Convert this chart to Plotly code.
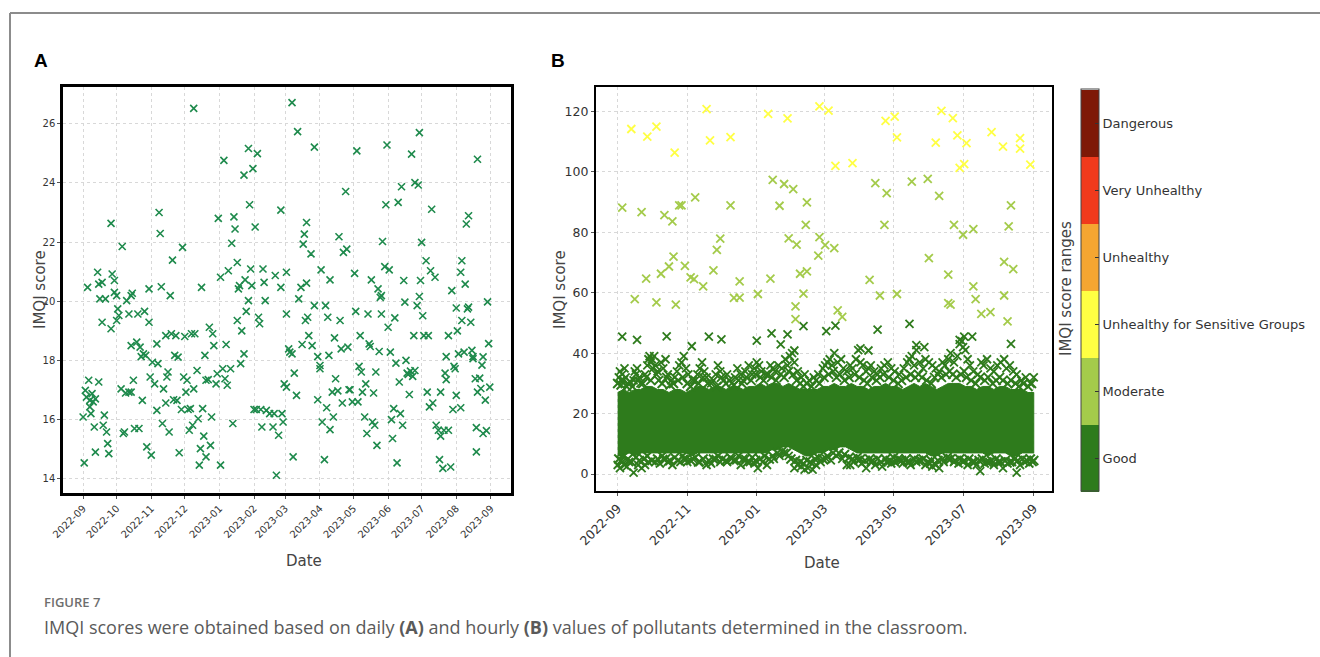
import pandas as pd
import plotly.graph_objects as go

START = pd.Timestamp("2022-09-01")

# ---------------- Panel A: daily IMQI (day offset from 2022-09-01, score)
a_day = [0, 1, 2, 3, 4, 5, 6, 6, 7, 8, 9, 10, 11, 11, 13, 14, 14, 15, 17, 17, 18, 19, 20, 21, 22, 23,
         25, 25, 26, 28, 28, 30, 30, 31, 32, 34, 35, 36, 37, 38, 39, 41, 41, 43, 43, 43, 44, 45, 46, 48,
         49, 50, 51, 52, 53, 54, 55, 56, 57, 59, 59, 60, 61, 62, 64, 66, 66, 67, 68, 69, 70, 71, 72, 74,
         74, 75, 76, 77, 78, 79, 80, 81, 82, 83, 84, 85, 86, 88, 89, 90, 91, 92, 93, 94, 95, 96, 97, 98,
         99, 99, 100, 102, 103, 104, 105, 106, 107, 108, 109, 110, 110, 112, 113, 114, 115, 116, 117, 119,
         120, 121, 123, 123, 125, 126, 127, 128, 129, 130, 132, 133, 134, 135, 136, 138, 138, 139, 140, 141,
         142, 144, 144, 145, 146, 148, 148, 149, 150, 151, 152, 153, 154, 155, 156, 157, 158, 159, 160, 161,
         162, 163, 164,
         167, 170, 171, 172, 173, 175, 177, 177, 178, 179, 180, 182, 182, 182, 184, 185, 187, 187, 188, 189,
         191, 192, 193, 195, 196, 197, 198, 199, 200, 200, 201, 202, 204, 205, 207, 207, 210, 210, 212, 212,
         213, 214, 216, 217, 218, 219, 220, 221, 221, 223, 224, 225, 226, 228, 229, 230, 231, 232, 233, 235,
         236, 237, 238, 239, 241, 243, 244, 245, 246, 247, 248, 249, 250, 252, 253, 254, 255, 256, 257, 258,
         259, 260, 261, 262, 263, 264, 265, 266, 267, 267, 268, 270, 271, 272, 273, 274, 275, 276, 277, 278,
         279, 280, 281, 282, 283, 284, 285, 286, 287, 288, 289, 290, 291, 292, 293, 294, 295, 296, 297, 297,
         299, 300, 301, 301, 302, 303, 304, 305, 307, 308, 309, 310, 311, 312, 313, 315, 316, 318, 319, 320,
         320, 322, 323, 324, 325, 325, 327, 327, 329, 330, 331, 332, 333, 334, 334, 335, 336, 338, 338, 339,
         339, 341, 342, 343, 344, 345, 345, 347, 348, 349, 349, 351, 352, 352, 353, 353,
         355, 356, 357, 358, 358, 360, 361, 362, 363, 364]
a_score = [16.09, 14.54, 16.99, 16.76, 20.47, 17.33, 16.43, 16.65, 16.2, 16.88, 16.6, 15.75, 14.9, 16.7, 20.98,
           17.27, 20.58, 20.08, 20.64, 19.29, 15.81, 16.15, 20.08, 15.58, 15.19, 14.85, 19.07, 22.63, 20.92,
           20.3, 20.7, 20.19, 19.35, 19.74, 19.52, 17.04, 21.85, 15.53, 15.58, 16.9, 20.02, 16.93, 19.57,
           20.19, 16.93, 18.5, 20.27, 17.33, 15.7, 18.62, 19.57, 15.7, 18.45, 18.13, 16.65, 18.22, 19.66,
           18.17, 15.08, 19.29, 20.42, 17.44, 14.8, 17.94, 17.21, 16.31, 18.56, 17.89, 23.0, 22.29, 20.49,
           15.87, 17.04, 16.56, 18.84, 17.44, 17.61, 15.58, 20.19, 18.9, 21.39, 16.67, 18.17, 18.84, 16.65,
           18.11, 14.88, 16.34, 21.82, 17.44, 18.81, 16.93, 17.33, 16.34, 15.64, 16.37, 18.9, 15.81, 26.52,
           17.04, 18.9, 17.66, 16.03, 14.46, 15.02, 20.47, 16.37, 15.44, 18.17, 17.33, 14.74, 17.35, 19.12,
           15.13, 16.09, 18.9, 18.5, 17.21, 17.55, 22.8, 14.46, 20.81, 17.72, 24.76, 17.38, 18.54, 17.16,
           21.03, 17.72, 21.96, 15.87, 22.85, 22.44, 21.31, 19.35, 20.42, 20.53, 17.89, 19.0, 18.22, 24.26,
           20.72, 19.66, 25.16, 20.02, 23.26, 21.09, 20.53, 24.48, 16.34, 22.51, 16.34, 24.99, 19.46, 19.24,
           16.34, 15.75, 21.09, 20.64, 20.02, 16.31,
           16.2, 15.75, 16.2, 20.87, 14.12, 15.47, 20.47, 23.08, 16.2, 15.92, 17.21, 17.1, 20.98, 19.57,
           18.39, 18.28, 26.71, 18.22, 14.74, 17.57, 16.82, 25.73, 20.08, 20.47, 18.54, 21.93, 22.27, 19.35,
           20.61, 22.66, 19.46, 18.84, 21.6, 18.5, 19.85, 25.21, 18.13, 16.67, 17.83, 17.72, 21.06, 15.92,
           14.65, 19.85, 16.4, 19.46, 18.17, 20.72, 15.66, 16.93, 16.09, 18.76, 17.38, 16.97, 22.18, 19.35,
           18.39, 16.56, 21.65, 23.71, 21.76, 18.45, 17.01, 17.01, 16.6, 20.94, 19.66, 25.08, 16.6, 17.8,
           18.84, 17.61, 16.93, 16.09, 17.21, 15.53, 19.57, 18.56, 18.47, 20.72, 15.92, 16.9, 15.81, 17.61,
           15.13, 20.42, 18.3, 20.13, 19.57, 20.19, 22.02, 21.17, 23.26, 25.28, 19.12, 21.06, 18.28, 16.0,
           15.36, 16.37, 19.44, 17.91, 14.54, 23.34, 17.27, 16.2, 23.87, 15.81, 20.7, 19.97, 18.0, 17.57,
           17.53, 16.85, 17.64, 24.97, 17.46, 18.84, 17.66, 24.01, 19.85, 23.93, 25.7, 20.16, 20.7, 21.99,
           19.51, 18.84, 21.37, 16.93, 18.84, 16.43, 21.03, 23.11, 16.56, 20.81, 15.81, 15.64, 14.65, 16.93,
           15.44, 14.35, 15.64, 17.57, 17.35, 18.13, 15.64, 18.84, 14.4, 20.36, 16.34, 17.8, 17.72, 19.77,
           16.82, 19.0, 18.22, 16.4, 20.98, 21.37, 19.35, 18.28, 20.58, 22.61, 19.74, 22.89, 19.8, 19.29,
           18.34, 18.06, 18.13, 17.38, 14.91, 15.73, 16.93, 24.8,
           17.4, 17.05, 17.84, 18.12, 15.53, 16.66, 15.63, 19.98, 18.57, 17.1]

# ---------------- Panel B: hourly IMQI
# dense "Good" core band: envelope read every 5 days
core_day = list(range(0, 366, 5))
core_top = [27, 28, 27, 28, 28, 29, 29, 28, 28, 27, 28, 28, 27, 28, 29, 29, 28, 29, 29, 28, 29, 29, 28, 29,
            29, 30, 29, 30, 30, 29, 30, 29, 28, 28, 28, 28, 29, 29, 30, 29, 29, 30, 29, 29, 28, 29, 29, 30,
            29, 29, 28, 29, 30, 29, 30, 29, 28, 29, 30, 30, 30, 29, 29, 28, 29, 29, 28, 29, 29, 28, 28, 28,
            27, 27]
core_bot = [6, 6, 7, 6, 7, 7, 7, 7, 7, 7, 7, 7, 7, 6, 7, 7, 7, 7, 7, 7, 7, 7, 7, 7, 7, 7, 7, 8, 8, 9, 9, 8,
            7, 6, 6, 7, 7, 8, 8, 9, 9, 8, 7, 7, 7, 7, 7, 7, 7, 7, 7, 7, 7, 7, 7, 6, 6, 7, 7, 7, 7, 7, 7, 7,
            7, 6, 7, 7, 7, 6, 6, 7, 7, 7]

# hourly points crowding the top / bottom edges of the core band
edge_day = [0, 3, 5, 8, 11, 13, 18, 22, 25, 29, 34, 36, 39, 43, 46, 49, 53, 57, 61, 64, 68, 71, 75, 79, 84,
            87, 91, 95, 98, 102, 106, 109, 113, 117, 121, 125, 128, 132, 135, 139, 143, 146, 150, 154, 157,
            160, 163, 166, 170, 174, 177, 181, 185, 189, 192, 195, 199, 203, 208, 212, 216, 219, 223, 227,
            230, 233, 238, 242, 246, 249, 253, 257, 261, 264, 267, 271, 275, 278, 281, 284, 288, 291, 294,
            297, 301, 304, 306, 310, 314, 318, 322, 325, 329, 332, 335, 338, 342, 345, 349, 352, 356, 360, 363,
            1, 3, 5, 9, 12, 16, 19, 23, 26, 30, 35, 39, 42, 46, 50, 53, 57, 60, 64, 68, 71, 75, 80, 84, 88,
            92, 95, 99, 102, 106, 110, 114, 118, 121, 125, 129, 133, 136, 140, 144, 148, 152, 156, 160, 163,
            166, 169, 173, 176, 180, 184, 189, 194, 199, 203, 206, 210, 213, 217, 221, 224, 228, 231, 235,
            239, 242, 246, 249, 253, 256, 260, 264, 268, 272, 275, 278, 281, 285, 289, 292, 296, 300, 304,
            308, 313, 317, 320, 324, 328, 332, 336, 340, 344, 348, 351, 355, 359, 362, 365]
edge_score = [30, 29.5, 31, 29, 30.5, 29, 31, 30, 32, 31, 33, 31, 30, 32, 29.5, 30, 31, 32, 30, 29, 31, 30,
              32, 30, 31, 29, 32, 30, 31, 29.5, 31, 30, 32, 31, 33, 32, 31, 33, 32, 31, 33, 32, 34, 33, 31,
              30, 29, 30, 29, 31, 30, 32, 33, 34, 32, 33, 31, 32, 33, 32, 31, 30, 32, 31, 32, 33, 32, 31,
              30, 31, 32, 33, 32, 33, 32, 31, 30, 32, 33, 32, 33, 34, 33, 32, 33, 34, 32, 31, 30, 32, 31,
              32, 30, 31, 32, 31, 30, 31, 30, 29, 30, 29, 30,
              5, 4.5, 6, 5, 4, 5.5, 4.5, 5, 6, 4.5, 5, 6, 5, 4.5, 5.5, 4.5, 6, 5, 4.5, 5.5, 4, 5, 4.5, 5,
              6, 5, 4.5, 5.5, 4.5, 6, 5, 4, 5.5, 4.5, 5, 6, 5, 6, 7, 7.5, 7, 5, 4.5, 4, 3.5, 4.5, 4, 5,
              5.5, 5, 6, 7, 7, 6.5, 5.5, 5, 5.5, 5, 4.5, 5, 4.5, 5, 4, 5, 4.5, 5.5, 5, 4.5, 5, 4, 5, 4.5,
              5, 4, 4.5, 3.5, 4.5, 5, 5.5, 5, 4.5, 5, 4.5, 5, 4, 4.5, 5, 4, 4.5, 5, 4, 4.5, 4, 5, 4.5, 5,
              4.5, 5, 4.5]

# scattered hourly points outside the dense core (day offset, score)
b_day = [1, 2, 3, 4, 6, 7, 9, 14, 15, 16, 17, 19, 20, 24, 26, 27, 28, 29, 30, 31, 32, 33, 35, 38, 40, 42,
         44, 47, 50, 52, 54, 56, 58, 60, 62, 66, 70, 72, 74, 76, 78, 82, 86, 88, 90, 93, 96, 100, 103, 105,
         108, 110, 112, 115, 118, 120, 122, 124, 126, 130, 134, 136, 138, 141, 144, 147, 149, 151, 153, 155,
         158, 161, 164, 168, 172, 176, 180, 182, 184, 186, 188, 190, 193, 196, 198, 201, 204, 206, 209, 211,
         213, 215, 218, 220, 222, 225, 228, 231, 234, 237, 240, 243, 247, 251, 254, 256, 258, 260, 262, 265,
         268, 270, 273, 276, 279, 282, 285, 287, 290, 292, 295, 298, 300, 302, 303, 305, 307, 309, 312, 316,
         319, 321, 324, 327, 330, 333, 336, 339, 341, 344, 347, 350, 354, 358, 362, 365,
         0, 2, 4, 6, 8, 10, 14, 18, 21, 24, 27, 33, 37, 40, 44, 48, 55, 58, 61, 66, 72, 78, 82, 86, 90, 96,
         100, 104, 108, 112, 116, 120, 123, 127, 131, 137, 142, 146, 150, 155, 158, 161, 164, 167, 171, 174,
         178, 183, 187, 192, 197, 201, 204, 207, 211, 214, 218, 222, 226, 232, 236, 240, 243, 247, 250, 254,
         257, 262, 266, 270, 274, 276, 279, 282, 286, 290, 295, 299, 303, 307, 311, 315, 318, 322, 326, 330,
         334, 338, 342, 346, 350, 353, 357, 361, 364,
         4, 17, 43, 65, 80, 91, 122, 135, 143, 149, 155, 163, 183, 191, 213, 220, 228, 256, 262, 269, 300,
         304, 311, 345,
         4, 15, 21, 25, 34, 38, 41, 45, 48, 49, 51, 54, 56, 59, 64, 67, 68, 75, 84, 87, 90, 99, 102, 107,
         107, 123, 134, 136, 142, 146, 150, 154, 157, 156, 156, 160, 163, 165, 166, 166, 176, 177, 182, 190,
         193, 197, 221, 226, 230, 234, 236, 245, 258, 272, 273, 282, 290, 290, 292, 295, 303, 312, 312, 314,
         319, 327, 339, 339, 343, 345, 347, 342,
         12, 26, 34, 50, 78, 81, 99, 132, 149, 177, 185, 191, 206, 235, 243, 245, 279, 284, 294, 298, 300,
         304, 306, 328, 338, 353, 353, 362]
b_score = [32, 34, 31, 33, 35, 32, 30, 31, 34, 33, 35, 32, 30, 33, 36, 38, 39, 37, 38, 35, 39, 36, 34, 37,
           35, 38, 33, 31, 32, 34, 36, 37, 39, 35, 33, 31, 33, 35, 37, 34, 32, 30, 33, 36, 34, 31, 33, 30,
           32, 35, 33, 31, 34, 36, 33, 35, 37, 36, 34, 33, 36, 35, 34, 36, 35, 38, 36, 39, 40, 37, 34, 32,
           33, 31, 32, 33, 35, 36, 37, 38, 36, 40, 37, 38, 35, 34, 36, 35, 38, 41, 37, 36, 34, 35, 36, 34,
           33, 35, 36, 37, 35, 34, 33, 35, 37, 38, 39, 36, 41, 37, 35, 38, 37, 36, 35, 34, 37, 36, 38, 40,
           37, 39, 43, 44, 42, 41, 38, 36, 34, 33, 37, 36, 38, 35, 34, 36, 37, 38, 35, 36, 34, 33, 31, 32,
           30, 32,
           3, 2, 4, 3, 2.5, 4, 0.5, 3, 2, 3, 4, 4, 3.5, 5, 4, 3, 4, 5, 4, 5, 4, 3, 3.5, 5, 4, 4, 5, 4.5, 3,
           5, 4, 3.5, 2, 4, 3, 5, 6, 7, 6, 2, 3, 2.5, 1.5, 2, 1.5, 3, 4, 5, 4.5, 6, 5, 3, 3, 4, 4.5, 3.5,
           2, 4, 3, 2.5, 4, 3.5, 4, 4.5, 3.5, 4, 3, 4, 4.5, 3, 3.5, 2.5, 3, 2, 4, 5, 4, 3.5, 4, 3, 4, 3, 1,
           3.5, 4, 3, 4, 2, 3.5, 4, 0.5, 3, 4, 3.5, 4,
           45.5, 44.4, 45.6, 42.3, 45.5, 44.6, 44.2, 46.6, 42.9, 46.2, 40.9, 49.0, 47.3, 49.1, 41.6, 40.9,
           47.8, 49.7, 42.7, 42.0, 44.4, 45.5, 45.5, 43.1,
           88.2, 57.9, 86.7, 64.7, 56.8, 66.3, 85.7, 68.7, 83.6, 72.0, 56.1, 88.9, 88.9, 68.9, 65.1, 64.5,
           91.6, 62.1, 67.4, 74.2, 77.9, 88.9, 58.3, 58.4, 63.8, 59.6, 64.7, 97.4, 88.8, 96.0, 78.0, 94.3,
           75.9, 55.5, 51.3, 66.3, 59.7, 82.5, 89.9, 67.1, 72.3, 78.4, 75.8, 74.8, 54.2, 52.0, 64.3, 96.3,
           59.1, 82.5, 93.0, 59.6, 96.8, 97.7, 71.5, 92.1, 66.0, 56.6, 56.1, 82.5, 79.2, 81.1, 62.1, 57.9,
           53.0, 53.6, 59.1, 70.2, 82.0, 88.9, 67.8, 50.5,
           114.2, 111.7, 115.0, 106.4, 120.8, 110.4, 111.5, 119.2, 117.7, 121.7, 120.3, 102.0, 102.9, 116.9,
           118.3, 111.4, 109.7, 120.2, 117.8, 112.1, 101.3, 102.6, 109.5, 113.2, 108.4, 111.2, 107.7, 102.4]

# IMQI categories (colour bar)
cat_names = ["Good", "Moderate", "Unhealthy for Sensitive Groups", "Unhealthy", "Very Unhealthy", "Dangerous"]
cat_upper = [50, 100, 150, 200, 300, 500]
cat_colors = ["#2e7b1c", "#a4cb4b", "#ffff43", "#f5a631", "#f03a1c", "#7e1906"]

# x tick dates
a_ticks = pd.date_range("2022-09-01", "2023-09-01", freq="MS")
b_ticks = pd.date_range("2022-09-01", "2023-09-01", freq="2MS")


def to_dates(days):
    return [START + pd.Timedelta(days=d) for d in days]


def category(v):
    for i, u in enumerate(cat_upper):
        if v <= u:
            return i
    return len(cat_upper) - 1


W, H = 1320, 657
def px(x):
    return x / W
def py(y):
    return 1 - y / H

fig = go.Figure()

# Panel A
fig.add_trace(go.Scatter(
    x=to_dates(a_day), y=a_score, mode="markers", xaxis="x", yaxis="y",
    marker=dict(symbol="x-thin", size=7, color="#1e8a4c", line=dict(width=1.6, color="#1e8a4c")),
    showlegend=False, hoverinfo="x+y"))

# Panel B core band
band_x = to_dates(core_day) + to_dates(core_day[::-1])
band_y = core_top + core_bot[::-1]
fig.add_trace(go.Scatter(
    x=band_x, y=band_y, mode="lines", fill="toself", xaxis="x2", yaxis="y2",
    line=dict(color=cat_colors[0], width=1), fillcolor=cat_colors[0],
    showlegend=False, hoverinfo="skip"))

# hourly points at band edges
fig.add_trace(go.Scatter(
    x=to_dates(edge_day), y=edge_score, mode="markers", xaxis="x2", yaxis="y2",
    marker=dict(symbol="x-thin", size=9, color=cat_colors[0], line=dict(width=2, color=cat_colors[0])),
    showlegend=False, hoverinfo="skip"))

# Panel B scattered points by category
cats = [category(v) for v in b_score]
for ci in range(3):
    xs = [d for d, c in zip(b_day, cats) if c == ci]
    ys = [v for v, c in zip(b_score, cats) if c == ci]
    col = cat_colors[ci]
    fig.add_trace(go.Scatter(
        x=to_dates(xs), y=ys, mode="markers", xaxis="x2", yaxis="y2",
        marker=dict(symbol="x-thin", size=8, color=col, line=dict(width=1.8, color=col)),
        showlegend=False, name=cat_names[ci]))

# colour bar (discrete)
n = len(cat_colors)
cscale = []
for i, c in enumerate(cat_colors):
    cscale.append([i / n, c])
    cscale.append([(i + 1) / n, c])
fig.add_trace(go.Scatter(
    x=[None], y=[None], mode="markers", xaxis="x2", yaxis="y2", showlegend=False,
    marker=dict(color=[0], colorscale=cscale, cmin=0, cmax=n, showscale=True,
                colorbar=dict(
                    x=px(1081), xanchor="left", y=py(290.5), yanchor="middle",
                    thickness=18, thicknessmode="pixels", len=402, lenmode="pixels",
                    tickvals=[i + 0.5 for i in range(n)], ticktext=cat_names,
                    ticks="inside", ticklen=4, tickcolor="#333", tickwidth=1,
                    tickfont=dict(family="DejaVu Sans", size=13, color="#333"),
                    outlinewidth=1, outlinecolor="#444", xpad=0, ypad=0))))

grid = dict(showgrid=True, gridcolor="#d8d8d8", griddash="dot", gridwidth=1,
            showline=True, mirror=True, linecolor="black", zeroline=False,
            ticks="outside", ticklen=3, tickcolor="#555", automargin=False)

fig.update_layout(
    width=W, height=H, margin=dict(l=0, r=0, t=0, b=0, autoexpand=False),
    paper_bgcolor="white", plot_bgcolor="white",
    xaxis=dict(domain=[px(63), px(511)], type="date", anchor="y",
               range=["2022-08-14", "2023-09-19"],
               tickvals=list(a_ticks), tickformat="%Y-%m", tickangle=-45,
               tickfont=dict(family="DejaVu Sans", size=10, color="#333"),
               linewidth=2.5, **grid),
    yaxis=dict(domain=[py(493), py(87)], anchor="x", range=[13.52, 27.24],
               tickvals=[14, 16, 18, 20, 22, 24, 26],
               tickfont=dict(family="DejaVu Sans", size=10, color="#333"),
               linewidth=2.5, **grid),
    xaxis2=dict(domain=[px(596), px(1052)], type="date", anchor="y2",
                range=["2022-08-13", "2023-09-17"],
                tickvals=list(b_ticks), tickformat="%Y-%m", tickangle=-45,
                tickfont=dict(family="DejaVu Sans", size=12.5, color="#333"),
                linewidth=2.2, **grid),
    yaxis2=dict(domain=[py(491), py(87)], anchor="x2", range=[-5.6, 128.1],
                tickvals=[0, 20, 40, 60, 80, 100, 120],
                tickfont=dict(family="DejaVu Sans", size=12.5, color="#333"),
                linewidth=2.2, **grid),
)

ann_font = dict(family="DejaVu Sans", size=15, color="#444")
annotations = [
    dict(text="A", x=px(41), y=py(60), font=dict(family="Liberation Sans", size=19, color="black", weight="bold")),
    dict(text="B", x=px(558), y=py(60), font=dict(family="Liberation Sans", size=19, color="black", weight="bold")),
    dict(text="IMQI score", x=px(40), y=py(290), textangle=-90, font=ann_font),
    dict(text="Date", x=px(304), y=py(561), font=ann_font),
    dict(text="IMQI score", x=px(560), y=py(290), textangle=-90, font=ann_font),
    dict(text="Date", x=px(822), y=py(563), font=ann_font),
    dict(text="IMQI score ranges", x=px(1066), y=py(289), textangle=-90, font=ann_font),
    dict(text="FIGURE 7", x=px(42), y=py(602), xanchor="left",
         font=dict(family="Open Sans", size=13, color="#6e6e6e", weight=600)),
    dict(text="IMQI scores were obtained based on daily <b>(A)</b> and hourly <b>(B)</b> values of pollutants determined in the classroom.",
         x=px(42), y=py(627), xanchor="left",
         font=dict(family="Open Sans", size=18, color="#5a5a5a")),
]
for a in annotations:
    a.setdefault("xanchor", "center")
    a.update(xref="paper", yref="paper", yanchor="middle", showarrow=False)
fig.update_layout(annotations=annotations)

fig.update_layout(shapes=[
    dict(type="line", xref="paper", yref="paper", x0=px(10), x1=1, y0=py(13), y1=py(13),
         line=dict(color="#8c8c8c", width=2)),
    dict(type="line", xref="paper", yref="paper", x0=px(10), x1=px(10), y0=py(13), y1=0,
         line=dict(color="#8c8c8c", width=2)),
])

fig.write_html("out.html")
